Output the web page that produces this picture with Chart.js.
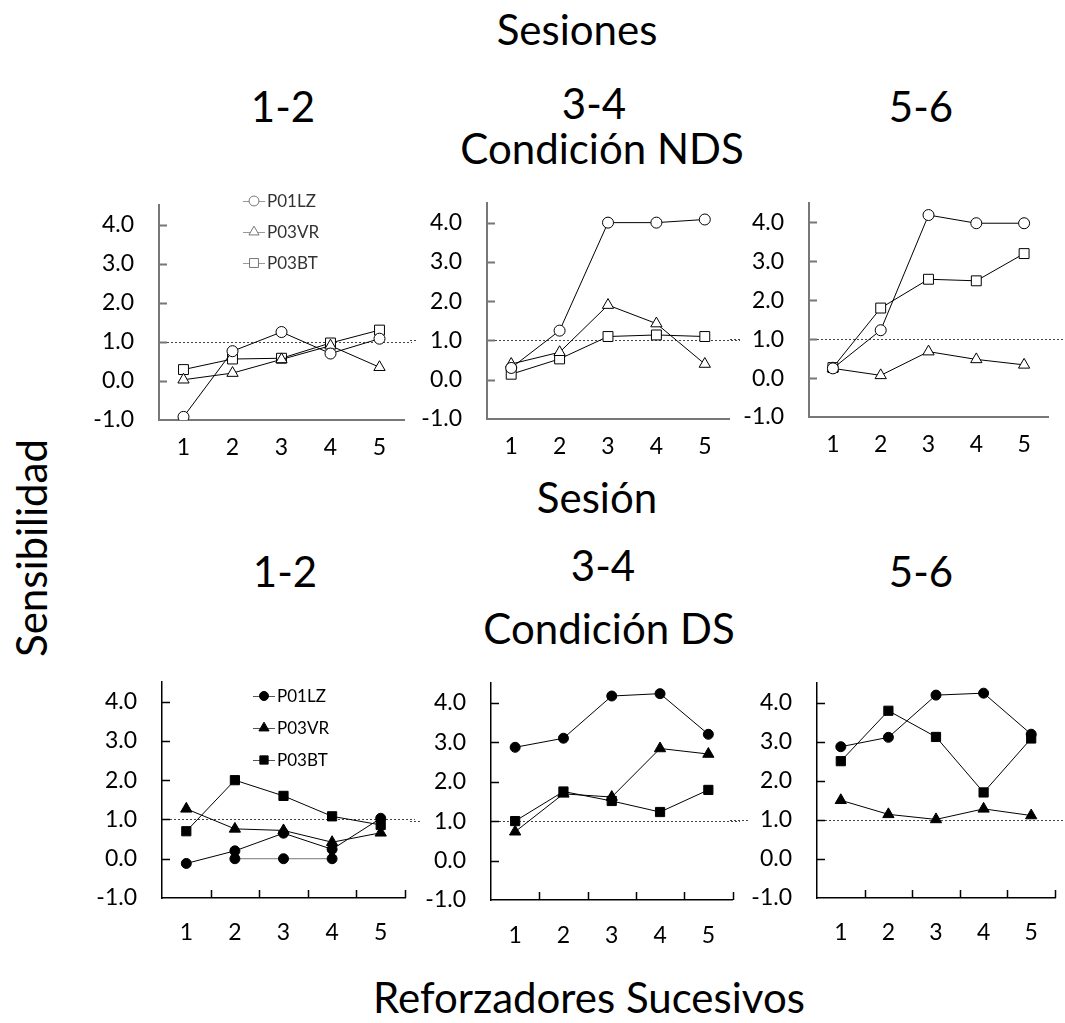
<!DOCTYPE html>
<html>
<head>
<meta charset="utf-8">
<script src="https://cdn.jsdelivr.net/npm/chart.js@4.4.1/dist/chart.umd.min.js"></script>
<style>
  body { margin: 0; background: #fff; width: 1065px; height: 1023px; position: relative; overflow: hidden; font-family: Lato, sans-serif; }
  .t { position: absolute; transform: translate(-50%, -50%); font-size: 42px; line-height: 1; white-space: nowrap; color: #000; }
  .box { position: absolute; }
</style>
</head>
<body>
<div class="t" style="left:577px;top:29px">Sesiones</div>
<div class="t" style="left:283px;top:106px">1-2</div>
<div class="t" style="left:594px;top:103px">3-4</div>
<div class="t" style="left:921px;top:106px">5-6</div>
<div class="t" style="left:602px;top:148px">Condición NDS</div>
<div class="t" style="left:597px;top:497px">Sesión</div>
<div class="t" style="left:285px;top:571px">1-2</div>
<div class="t" style="left:603px;top:565px">3-4</div>
<div class="t" style="left:921px;top:571px">5-6</div>
<div class="t" style="left:609px;top:628px">Condición DS</div>
<div class="t" style="left:31px;top:548px;transform:translate(-50%,-50%) rotate(-90deg)">Sensibilidad</div>
<div class="t" style="left:589px;top:997px">Reforzadores Sucesivos</div>

<script>
// ejes
const sessions = ['1', '2', '3', '4', '5'];
const yTicks = [-1, 0, 1, 2, 3, 4];
const refValue = 1.0;
const subjects = ['P01LZ', 'P03VR', 'P03BT'];

// Condición NDS (sesiones 1-2, 3-4, 5-6)
const nds12_P01LZ = [-0.92, 0.76, 1.25, 0.70, 1.08];
const nds12_P03VR = [0.03, 0.20, 0.55, 0.90, 0.35];
const nds12_P03BT = [0.29, 0.56, 0.58, 0.97, 1.30];
const nds34_P01LZ = [0.30, 1.25, 4.00, 4.00, 4.08];
const nds34_P03VR = [0.40, 0.70, 1.90, 1.43, 0.40];
const nds34_P03BT = [0.14, 0.53, 1.10, 1.14, 1.10];
const nds56_P01LZ = [0.25, 1.23, 4.19, 3.98, 3.98];
const nds56_P03VR = [0.25, 0.07, 0.68, 0.48, 0.34];
const nds56_P03BT = [0.27, 1.80, 2.54, 2.50, 3.20];

// Condición DS
const ds12_P01LZ = [-0.12, 0.20, 0.65, 0.24, 1.03];
const ds12_P01LZ_b = [null, 0.00, 0.00, 0.00, null];
const ds12_P03VR = [1.27, 0.76, 0.72, 0.42, 0.66];
const ds12_P03BT = [0.70, 2.00, 1.60, 1.08, 0.86];
const ds34_P01LZ = [2.87, 3.10, 4.17, 4.23, 3.20];
const ds34_P03VR = [0.73, 1.69, 1.61, 2.84, 2.70];
const ds34_P03BT = [1.00, 1.75, 1.51, 1.23, 1.79];
const ds56_P01LZ = [2.87, 3.11, 4.19, 4.24, 3.19];
const ds56_P03VR = [1.50, 1.14, 1.01, 1.28, 1.11];
const ds56_P03BT = [2.50, 3.79, 3.12, 1.70, 3.08];

Chart.defaults.font.family = 'Lato, sans-serif';
Chart.defaults.color = '#000';
Chart.defaults.animation = false;

const markers = {
  circle:   { open: 5.5, filled: 5 },
  triangle: { open: 6.5, filled: 6.5 },
  rect:     { open: 7,   filled: 6.5 }
};
const styles = ['circle', 'triangle', 'rect'];

function makeSets(rows, filled) {
  return rows.map((data, i) => {
    const st = styles[i];
    return {
      label: subjects[i],
      data: data,
      borderColor: '#000',
      borderWidth: 1,
      pointStyle: st,
      pointRadius: markers[st][filled ? 'filled' : 'open'],
      pointBackgroundColor: filled ? '#000' : '#fff',
      pointBorderColor: '#000',
      pointBorderWidth: 1
    };
  });
}

function drawMarker(ctx, style, r, x, y) {
  ctx.beginPath();
  if (style === 'circle') {
    ctx.arc(x, y, r, 0, Math.PI * 2);
  } else if (style === 'triangle') {
    ctx.moveTo(x, y - r);
    ctx.lineTo(x + r * 0.866, y + r * 0.5);
    ctx.lineTo(x - r * 0.866, y + r * 0.5);
    ctx.closePath();
  } else {
    const s = r * Math.SQRT1_2;
    ctx.rect(x - s, y - s, 2 * s, 2 * s);
  }
  ctx.fill();
  ctx.stroke();
}

// línea punteada, marcas internas y leyenda
const deco = {
  id: 'deco',
  beforeDatasetsDraw(chart, args, o) {
    const { ctx, chartArea: a, scales: { x, y } } = chart;
    ctx.save();
    const yy = Math.round(y.getPixelForValue(refValue)) + 0.5;
    ctx.strokeStyle = '#444';
    ctx.lineWidth = 1;
    ctx.setLineDash([2, 2]);
    ctx.beginPath();
    if (o.lead) { ctx.moveTo(0, yy); ctx.lineTo(o.lead, yy); }
    ctx.moveTo(a.left, yy);
    ctx.lineTo(chart.width, yy);
    ctx.stroke();
    ctx.setLineDash([]);

    ctx.strokeStyle = o.axisColor;
    ctx.lineWidth = o.axisWidth;
    ctx.beginPath();
    y.ticks.forEach(t => {
      if (t.value > y.min) {
        const p = Math.round(y.getPixelForValue(t.value)) + 0.5;
        ctx.moveTo(a.left, p);
        ctx.lineTo(a.left + 8, p);
      }
    });
    if (o.xTicks) {
      const half = (x.getPixelForValue(1) - x.getPixelForValue(0)) / 2;
      sessions.forEach((s, i) => {
        const p = Math.round(x.getPixelForValue(i) + half) + 0.5;
        ctx.moveTo(p, a.bottom);
        ctx.lineTo(p, a.bottom - 8);
      });
    }
    ctx.stroke();
    ctx.restore();
  },
  afterDatasetsDraw(chart, args, o) {
    if (!o.legend) return;
    const L = o.legend;
    const ctx = chart.ctx;
    ctx.save();
    ctx.font = '17px Lato, sans-serif';
    ctx.textBaseline = 'middle';
    chart.data.datasets.slice(0, 3).forEach((ds, i) => {
      const lx = L.x - o.x0;
      const ly = L.y - o.y0 + i * L.gap;
      ctx.strokeStyle = L.lineColor;
      ctx.lineWidth = 1;
      ctx.beginPath();
      ctx.moveTo(lx - 11, ly + 0.5);
      ctx.lineTo(lx + 11, ly + 0.5);
      ctx.stroke();
      ctx.fillStyle = ds.pointBackgroundColor === '#fff' ? '#fff' : L.markColor;
      ctx.strokeStyle = L.markColor;
      drawMarker(ctx, ds.pointStyle, ds.pointRadius * 0.9, lx, ly);
      ctx.fillStyle = L.textColor;
      ctx.fillText(ds.label, lx + 13, ly + 1);
    });
    ctx.restore();
  }
};

const panels = [
  { x0: 90,  y0: 185, w: 322, h: 285, left: 159, top: 205, right: 407,  bottom: 420, xPad: 14, lead: 0,  top_row: true,
    rows: [nds12_P01LZ, nds12_P03VR, nds12_P03BT],
    legend: { x: 254, y: 201, gap: 31, lineColor: '#999', markColor: '#777', textColor: '#333' } },
  { x0: 410, y0: 185, w: 330, h: 285, left: 487, top: 203, right: 729,  bottom: 419, xPad: 14, lead: 6,  top_row: true,
    rows: [nds34_P01LZ, nds34_P03VR, nds34_P03BT] },
  { x0: 730, y0: 185, w: 335, h: 285, left: 809, top: 203, right: 1048, bottom: 417, xPad: 14, lead: 10, top_row: true,
    rows: [nds56_P01LZ, nds56_P03VR, nds56_P03BT] },
  { x0: 90,  y0: 665, w: 325, h: 290, left: 162, top: 682, right: 405,  bottom: 898, xPad: 21, lead: 0,  top_row: false,
    rows: [ds12_P01LZ, ds12_P03VR, ds12_P03BT], extra: ds12_P01LZ_b,
    legend: { x: 264, y: 696, gap: 32, lineColor: '#555', markColor: '#000', textColor: '#000' } },
  { x0: 410, y0: 665, w: 330, h: 290, left: 491, top: 683, right: 734,  bottom: 900, xPad: 22, lead: 12, top_row: false,
    rows: [ds34_P01LZ, ds34_P03VR, ds34_P03BT] },
  { x0: 730, y0: 665, w: 335, h: 290, left: 817, top: 683, right: 1055, bottom: 898, xPad: 21, lead: 18, top_row: false,
    rows: [ds56_P01LZ, ds56_P03VR, ds56_P03BT] }
];

panels.forEach(p => {
  const box = document.createElement('div');
  box.className = 'box';
  box.style.left = p.x0 + 'px';
  box.style.top = p.y0 + 'px';
  box.style.width = p.w + 'px';
  box.style.height = p.h + 'px';
  const cv = document.createElement('canvas');
  box.appendChild(cv);
  document.body.appendChild(box);

  const axisColor = p.top_row ? '#777' : '#000';
  const axisWidth = p.top_row ? 2 : 1.5;
  const datasets = makeSets(p.rows, !p.top_row);
  if (p.extra) {
    datasets.push({
      label: 'P01LZ', data: p.extra, borderColor: '#777', borderWidth: 1,
      pointStyle: 'circle', pointRadius: 5, pointBackgroundColor: '#000',
      pointBorderColor: '#000', pointBorderWidth: 1
    });
  }

  new Chart(cv, {
    type: 'line',
    data: { labels: sessions, datasets: datasets },
    options: {
      responsive: true,
      maintainAspectRatio: false,
      layout: { padding: { left: 0, bottom: 0, top: p.top - p.y0, right: p.x0 + p.w - p.right } },
      plugins: {
        legend: { display: false },
        tooltip: { enabled: false },
        deco: { lead: p.lead, axisColor: axisColor, axisWidth: axisWidth, xTicks: !p.top_row,
                legend: p.legend, x0: p.x0, y0: p.y0 }
      },
      scales: {
        x: {
          type: 'category',
          offset: true,
          grid: { display: false, drawTicks: false },
          border: { display: true, color: axisColor, width: axisWidth },
          ticks: { padding: p.xPad, font: { size: 23 }, color: '#000' },
          afterFit: s => { s.height = p.y0 + p.h - p.bottom; s.paddingLeft = 0; s.paddingRight = 0; }
        },
        y: {
          min: -1,
          max: 4.5,
          afterBuildTicks: s => { s.ticks = yTicks.map(v => ({ value: v })); },
          grid: { display: false, drawTicks: false },
          border: { display: true, color: axisColor, width: axisWidth },
          ticks: { padding: 25, font: { size: 23 }, color: '#000', callback: v => v.toFixed(1) },
          afterFit: s => { s.width = p.left - p.x0; s.paddingTop = 0; s.paddingBottom = 0; }
        }
      }
    },
    plugins: [deco]
  });
});
</script>
</body>
</html>
